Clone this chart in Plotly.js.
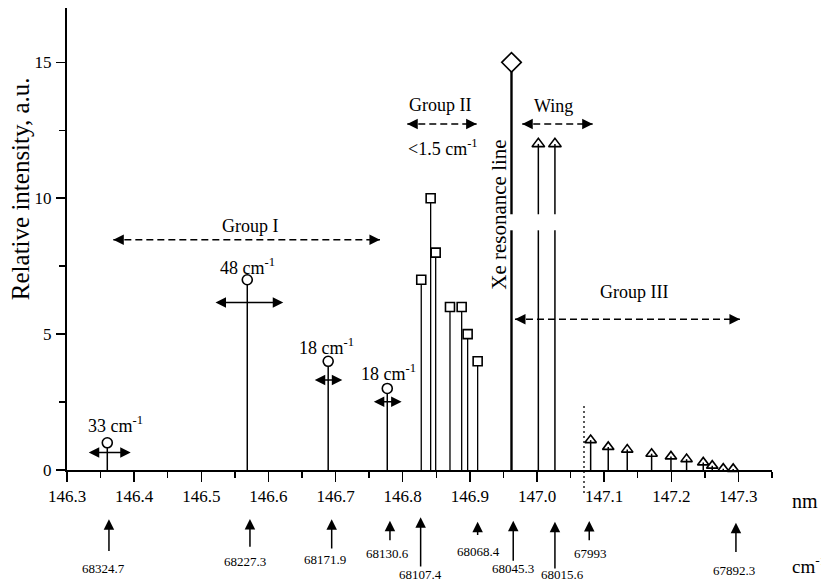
<!DOCTYPE html>
<html><head><meta charset="utf-8">
<script src="https://cdn.plot.ly/plotly-3.0.1.min.js"></script>
<style>html,body{margin:0;padding:0;background:#fff}</style>
</head><body><div id="chart" style="width:821px;height:581px"></div>
<script>
// ---------- DATA ----------
const groupI_nm = [146.360, 146.5685, 146.689, 146.777];
const groupI_int = [1, 7, 4, 3];
const groupI_text = ['33 cm<sup>-1</sup>', '48 cm<sup>-1</sup>', '18 cm<sup>-1</sup>', '18 cm<sup>-1</sup>'];
const groupI_lo = [146.3302, 146.5189, 146.6668, 146.7547];
const groupI_hi = [146.3949, 146.6221, 146.7100, 146.7984];
const groupII_nm = [146.8276, 146.8416, 146.8491, 146.8704, 146.8878, 146.8967, 146.9116];
const groupII_int = [7, 10, 8, 6, 6, 5, 4];
const xe_nm = [146.962];
const xe_int = [15];
const wing_nm = [147.002, 147.0267];
const wing_int = [12, 12];
const groupIII_nm = [147.0799, 147.1061, 147.1344, 147.1707, 147.1995, 147.2228, 147.2476, 147.2610, 147.2774, 147.2922];
const groupIII_int = [1.1, 0.85, 0.75, 0.6, 0.5, 0.4, 0.28, 0.16, 0.05, 0.04];
const wn_labels = ['68324.7', '68227.3', '68171.9', '68130.6', '68107.4', '68068.4', '68045.3', '68015.6', '67993', '67892.3'];
const wn_nm = [146.3625, 146.5725, 146.6942, 146.7810, 146.8267, 146.9116, 146.9646, 147.0267, 147.0778, 147.2963];
const region_names = ['Group I', 'Group II', 'Wing', 'Group III'];
const region_lo = [146.369, 146.8068, 146.978, 146.9672];
const region_hi = [146.7661, 146.9101, 147.0829, 147.3022];
const xTickVals = [146.3, 146.4, 146.5, 146.6, 146.7, 146.8, 146.9, 147.0, 147.1, 147.2, 147.3];
const yTickVals = [0, 5, 10, 15];

// ---------- LAYOUT POSITIONS / STYLES ----------
const FONT = '"Liberation Serif", "Times New Roman", serif';
const Y_MAX = 17;
const gapLo = 8.82, gapHi = 9.41;
const PX_PER_UNIT = 462 / Y_MAX;
const errY = [0.64, 6.16, 3.31, 2.51];
const errLabelPos = [[146.3715, 1.66], [146.5695, 7.47], [146.6872, 4.53], [146.7795, 3.57]];
const regionY = [8.47, 12.73, 12.73, 5.55];
const regionLabelPos = [[146.574, 8.98], [146.8555, 13.43], [147.025, 13.40], [147.144, 6.55]];
// below-axis positions in axis units (negative = below the x axis)
const wnTipY = [-1.81, -1.80, -1.81, -1.87, -1.74, -1.90, -1.87, -1.90, -1.88, -1.94];
const wnBaseY = [-3.04, -2.88, -2.94, -2.64, -3.61, -2.45, -3.39, -3.68, -2.64, -3.07];
const wnLabelY = [-3.62, -3.35, -3.29, -3.07, -3.83, -3.01, -3.62, -3.86, -3.07, -3.68];
const wnLabelShift = [-5, -5, -7, -2, 0, 1, 0, 8, 1, -2];

function stems(xs, ys, gap) {
  const X = [], Y = [];
  xs.forEach((x, i) => {
    if (gap && ys[i] > gapHi) {
      X.push(x, x, null, x, x, null);
      Y.push(0, gapLo, null, gapHi, ys[i], null);
    } else {
      X.push(x, x, null);
      Y.push(0, ys[i], null);
    }
  });
  return {x: X, y: Y};
}
function stemTrace(xs, ys, w, gap) {
  const s = stems(xs, ys, gap);
  return {x: s.x, y: s.y, mode: 'lines', type: 'scatter', line: {color: '#000', width: w}, hoverinfo: 'skip', cliponaxis: false};
}
function markTrace(xs, ys, sym, size, fill) {
  return {x: xs, y: ys, mode: 'markers', type: 'scatter', cliponaxis: false,
    marker: {symbol: sym, size: size, color: fill, line: {color: '#000', width: 1.6}}};
}

const traces = [
  stemTrace(groupI_nm, groupI_int, 1.5, false),
  stemTrace(groupII_nm, groupII_int, 1.3, false),
  stemTrace(xe_nm, xe_int, 2.4, true),
  stemTrace(wing_nm, wing_int, 1.5, true),
  stemTrace(groupIII_nm, groupIII_int, 1.5, false),
  markTrace(groupI_nm, groupI_int, 'circle', 10, '#fff'),
  markTrace(groupII_nm, groupII_int, 'square', 9, '#fff'),
  markTrace(xe_nm, xe_int, 'diamond', 15, '#fff'),
  markTrace(wing_nm, wing_int, 'triangle-up-open', 11, '#000'),
  markTrace(groupIII_nm, groupIII_int, 'triangle-up-open', 10, '#000')
];

const ann = [];
const shapes = [];
const txt = (text, x, y, size, extra) => Object.assign({text: text, x: x, y: y, xref: 'x', yref: 'y', showarrow: false,
  xanchor: 'center', yanchor: 'middle',
  font: {family: FONT, size: size, color: '#000'}}, extra || {});

// Group I width labels and solid double arrows
groupI_nm.forEach((x, i) => {
  ann.push(txt(groupI_text[i], errLabelPos[i][0], errLabelPos[i][1], 18));
  ann.push({x: groupI_hi[i], y: errY[i], ax: groupI_lo[i], ay: errY[i], xref: 'x', yref: 'y', axref: 'x', ayref: 'y',
    text: '', showarrow: true, arrowside: 'end+start', arrowhead: 2, startarrowhead: 2, arrowsize: 1.4, startarrowsize: 1.4,
    arrowwidth: 1.5, arrowcolor: '#000'});
});
// Region dashed arrows
region_names.forEach((n, i) => {
  ann.push(txt(n, regionLabelPos[i][0], regionLabelPos[i][1], 18));
  shapes.push({type: 'line', xref: 'x', yref: 'y', x0: region_lo[i], x1: region_hi[i], y0: regionY[i], y1: regionY[i],
    line: {color: '#000', width: 1.5, dash: '7px,4px'}});
  [[region_hi[i], region_hi[i] - 0.012], [region_lo[i], region_lo[i] + 0.012]].forEach(p => {
    ann.push({x: p[0], y: regionY[i], ax: p[1], ay: regionY[i], xref: 'x', yref: 'y', axref: 'x', ayref: 'y',
      text: '', showarrow: true, arrowhead: 2, arrowsize: 1.4, arrowwidth: 1.5, arrowcolor: '#000'});
  });
});
ann.push(txt('&lt;1.5 cm<sup>-1</sup>', 146.86, 11.85, 18));
ann.push(txt('Xe resonance line', 146.9433, 9.39, 21, {textangle: -90}));
// wavenumber markers below the axis (paper y so they are not hidden outside the range)
wn_nm.forEach((x, i) => {
  ann.push({x: x, y: wnTipY[i] / Y_MAX, xref: 'x', yref: 'paper', axref: 'pixel', ayref: 'pixel',
    ax: 0, ay: (wnTipY[i] - wnBaseY[i]) * PX_PER_UNIT,
    text: '', showarrow: true, arrowhead: 2, arrowsize: 1.4, arrowwidth: 1.5, arrowcolor: '#000'});
  ann.push(txt(wn_labels[i], x, wnLabelY[i] / Y_MAX, 13, {yref: 'paper', xshift: wnLabelShift[i]}));
});
ann.push(txt('nm', (805 - 67) / 705, -1.14 / Y_MAX, 20, {xref: 'paper', yref: 'paper'}));
ann.push(txt('cm<sup>-1</sup>', (790 - 67) / 705, -3.50 / Y_MAX, 19, {xref: 'paper', yref: 'paper', xanchor: 'left'}));
ann.push(txt('Relative intensity, a.u.', -0.0667, 0.61, 25, {xref: 'paper', yref: 'paper', textangle: -90}));

shapes.push({type: 'line', xref: 'x', yref: 'paper', x0: 147.07, x1: 147.07, y0: -0.0498, y1: 0.1429,
  line: {color: '#000', width: 1.3, dash: '2px,3px'}});

const layout = {
  width: 821, height: 581,
  margin: {l: 67, r: 49, t: 8, b: 111, pad: 0},
  paper_bgcolor: '#fff', plot_bgcolor: '#fff',
  showlegend: false,
  font: {family: FONT, color: '#000'},
  xaxis: {range: [146.3, 147.35], tickvals: xTickVals, ticktext: xTickVals.map(v => v.toFixed(1)),
    showgrid: false, zeroline: false, showline: true, linewidth: 2, linecolor: '#000',
    ticks: 'outside', ticklen: 10, tickwidth: 1.5, tickcolor: '#000',
    tickfont: {family: FONT, size: 17, color: '#000'},
    minor: {dtick: 0.05, tick0: 146.3, ticks: 'outside', ticklen: 6, tickwidth: 1.5, tickcolor: '#000'}},
  yaxis: {range: [0, Y_MAX], tickvals: yTickVals,
    showgrid: false, zeroline: false, showline: true, linewidth: 2, linecolor: '#000',
    ticks: 'outside', ticklen: 9, tickwidth: 1.5, tickcolor: '#000', ticklabelstandoff: 1,
    tickfont: {family: FONT, size: 17, color: '#000'},
    minor: {dtick: 2.5, tick0: 0, ticks: 'outside', ticklen: 6, tickwidth: 1.5, tickcolor: '#000'}},
  annotations: ann,
  shapes: shapes
};
Plotly.newPlot('chart', traces, layout, {staticPlot: true});
</script></body></html>
